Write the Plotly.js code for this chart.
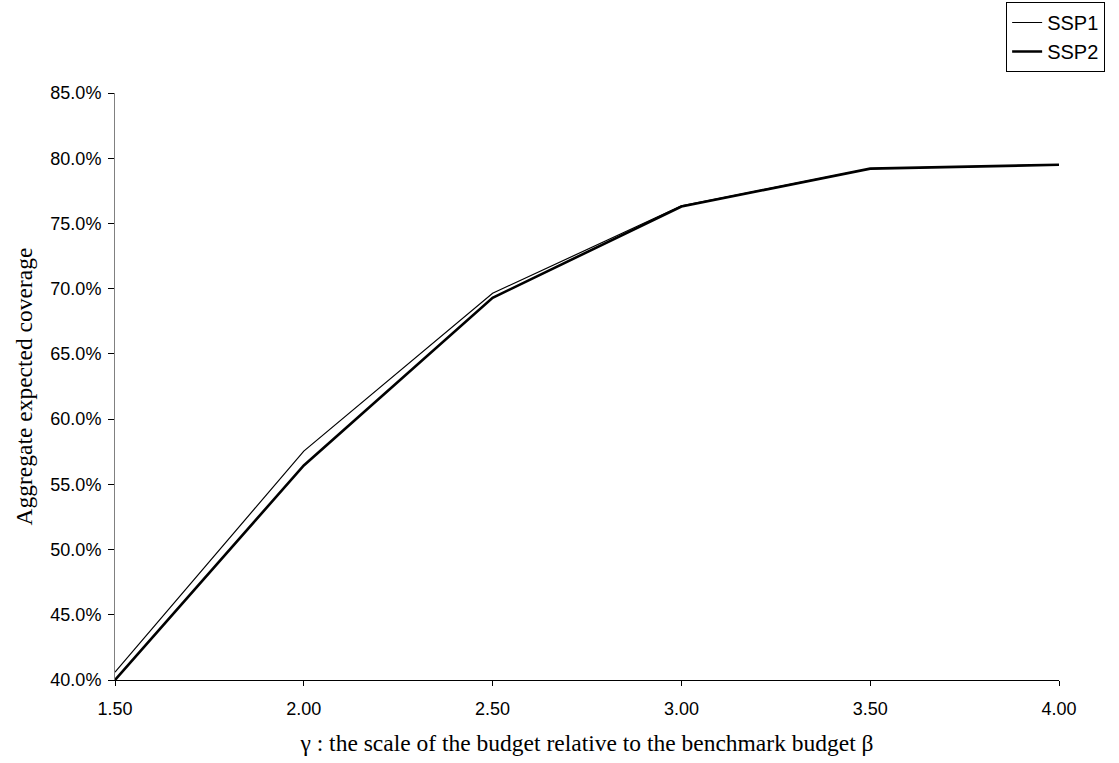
<!DOCTYPE html>
<html>
<head>
<meta charset="utf-8">
<script src="https://cdn.plot.ly/plotly-3.0.1.min.js"></script>
<style>html,body{margin:0;padding:0;background:#fff;}#chart{width:1119px;height:763px;}</style>
</head>
<body>
<div id="chart"></div>
<script>
const gammaValues = [1.5, 2.0, 2.5, 3.0, 3.5, 4.0];
const ssp1Coverage = [0.406, 0.5755, 0.6965, 0.7635, 0.792, 0.795];
const ssp2Coverage = [0.400, 0.5645, 0.693, 0.763, 0.792, 0.795];
const yTickValues = [0.40, 0.45, 0.50, 0.55, 0.60, 0.65, 0.70, 0.75, 0.80, 0.85];
const xTickValues = [1.5, 2.0, 2.5, 3.0, 3.5, 4.0];
const xTitle = 'γ : the scale of the budget relative to the benchmark budget β';
const yTitle = 'Aggregate expected coverage';

const traces = [
  {x: gammaValues, y: ssp1Coverage, name: 'SSP1', mode: 'lines', type: 'scatter',
   line: {color: '#000', width: 1.2}},
  {x: gammaValues, y: ssp2Coverage, name: 'SSP2', mode: 'lines', type: 'scatter',
   line: {color: '#000', width: 2.6}}
];

const serif = {family: 'Liberation Serif, Times New Roman, serif', size: 23.5, color: '#000'};
const sans = {family: 'Liberation Sans, Arial, sans-serif', size: 18, color: '#000'};

const layout = {
  width: 1119, height: 763,
  margin: {l: 115, r: 60, t: 93, b: 83, autoexpand: false},
  paper_bgcolor: '#fff', plot_bgcolor: '#fff',
  showlegend: true,
  legend: {
    x: 0.944, xanchor: 'left', y: 1.155, yanchor: 'top',
    bordercolor: '#000', borderwidth: 1, bgcolor: '#fff',
    font: {family: 'Liberation Sans, Arial, sans-serif', size: 20, color: '#000'},
    tracegroupgap: 0, itemwidth: 30
  },
  xaxis: {
    range: [1.5, 4.0], tickvals: xTickValues, tickformat: '.2f',
    showgrid: false, zeroline: false, showline: true, linecolor: '#000', linewidth: 1,
    ticks: 'outside', ticklen: 5, tickcolor: '#000', ticklabelstandoff: 7,
    tickfont: sans, automargin: false,
    title: {text: xTitle, font: serif, standoff: 16}
  },
  yaxis: {
    range: [0.40, 0.85], tickvals: yTickValues, tickformat: '.1%',
    showgrid: false, zeroline: false, showline: true, linecolor: '#808080', linewidth: 1,
    ticks: 'outside', ticklen: 6, tickcolor: '#000', ticklabelstandoff: 3,
    tickfont: sans, automargin: false
  },
  annotations: [{
    text: yTitle, xref: 'paper', yref: 'paper', x: -0.0964, y: 0.5,
    xanchor: 'center', yanchor: 'middle', textangle: -90, showarrow: false, font: serif
  }]
};

Plotly.newPlot('chart', traces, layout, {displayModeBar: false, staticPlot: true});
</script>
</body>
</html>
